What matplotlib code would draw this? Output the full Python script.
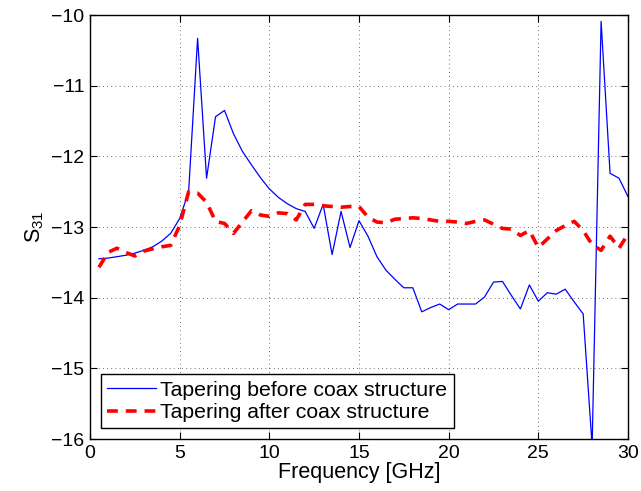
import numpy as np
import matplotlib
matplotlib.use("Agg")
import matplotlib.pyplot as plt

freq = [0.5, 1.0, 1.5, 2.0, 2.5, 3.0, 3.5, 4.0, 4.5, 5.0,
        5.5, 6.0, 6.5, 7.0, 7.5, 8.0, 8.5, 9.0, 9.5, 10.0,
        10.5, 11.0, 11.5, 12.0, 12.5, 13.0, 13.5, 14.0, 14.5, 15.0,
        15.5, 16.0, 16.5, 17.0, 17.5, 18.0, 18.5, 19.0, 19.5, 20.0,
        20.5, 21.0, 21.5, 22.0, 22.5, 23.0, 23.5, 24.0, 24.5, 25.0,
        25.5, 26.0, 26.5, 27.0, 27.5, 28.0, 28.5, 29.0, 29.5, 30.0]

s31_before = [-13.45, -13.44, -13.42, -13.40, -13.37, -13.33, -13.28, -13.20, -13.09, -12.88,
              -12.50, -10.33, -12.31, -11.44, -11.35, -11.68, -11.93, -12.12, -12.30, -12.46,
              -12.58, -12.67, -12.74, -12.78, -13.02, -12.68, -13.39, -12.78, -13.29, -12.91,
              -13.13, -13.42, -13.61, -13.74, -13.86, -13.86, -14.20, -14.14, -14.09, -14.17,
              -14.09, -14.09, -14.09, -13.99, -13.78, -13.77, -13.97, -14.16, -13.82, -14.05,
              -13.93, -13.95, -13.88, -14.06, -14.23, -16.10, -10.09, -12.24, -12.31, -12.57]

s31_after = [-13.57, -13.36, -13.30, -13.36, -13.41, -13.34, -13.31, -13.28, -13.26, -12.98,
             -12.50, -12.52, -12.65, -12.92, -12.95, -13.09, -12.93, -12.77, -12.83, -12.85,
             -12.80, -12.81, -12.90, -12.68, -12.68, -12.70, -12.71, -12.72, -12.71, -12.71,
             -12.86, -12.93, -12.94, -12.89, -12.88, -12.87, -12.88, -12.90, -12.92, -12.92,
             -12.93, -12.95, -12.92, -12.90, -12.96, -13.02, -13.03, -13.12, -13.05, -13.29,
             -13.17, -13.05, -12.98, -12.92, -13.05, -13.25, -13.33, -13.13, -13.30, -13.10]

labels = ["Tapering before coax structure", "Tapering after coax structure"]
xticks = [0, 5, 10, 15, 20, 25, 30]
yticks = [-16, -15, -14, -13, -12, -11, -10]

plt.rcParams['font.family'] = ['Liberation Sans', 'DejaVu Sans']
plt.rcParams['mathtext.fontset'] = 'custom'
plt.rcParams['mathtext.rm'] = 'Liberation Sans'
plt.rcParams['mathtext.it'] = 'Liberation Sans'

fig = plt.figure(figsize=(6.41, 4.91), dpi=100)
ax = fig.add_axes([90/641, 1-439/491, (628-90)/641, (439-15)/491])

ax.plot(freq, s31_before, color='#0000ff', lw=0.9, label=labels[0])
ax.plot(freq, s31_after, color='#ff0000', lw=2.6, ls=(0, (3, 2.2)), label=labels[1])

ax.set_xlim(0, 30)
ax.set_ylim(-16, -10)
ax.set_xticks(xticks)
ax.set_yticks(yticks)
ax.set_xticklabels([str(t) for t in xticks])
ax.set_yticklabels(['\u2212' + str(abs(t)) for t in yticks])
ax.tick_params(direction='in', top=True, right=True, length=5, width=0.8,
               labelsize=14, pad=4)
for s in ax.spines.values():
    s.set_linewidth(1.0)
ax.grid(True, color='#000000', ls=(0, (1, 4)), lw=0.6, alpha=0.75)

ax.set_xlabel('Frequency [GHz]', fontsize=15.5, labelpad=0)
ax.set_ylabel('S$_{31}$', fontsize=15.5, labelpad=4)

leg = ax.legend(loc='lower left', fontsize=15.3, frameon=True, fancybox=False,
                edgecolor='black', framealpha=1, borderpad=0.3, labelspacing=0.15,
                handlelength=2.3, handletextpad=0.2, borderaxespad=0.5,
                bbox_to_anchor=(0.0, 0.0))
leg.get_frame().set_linewidth(1.0)

fig.savefig('out.png', dpi=100)
